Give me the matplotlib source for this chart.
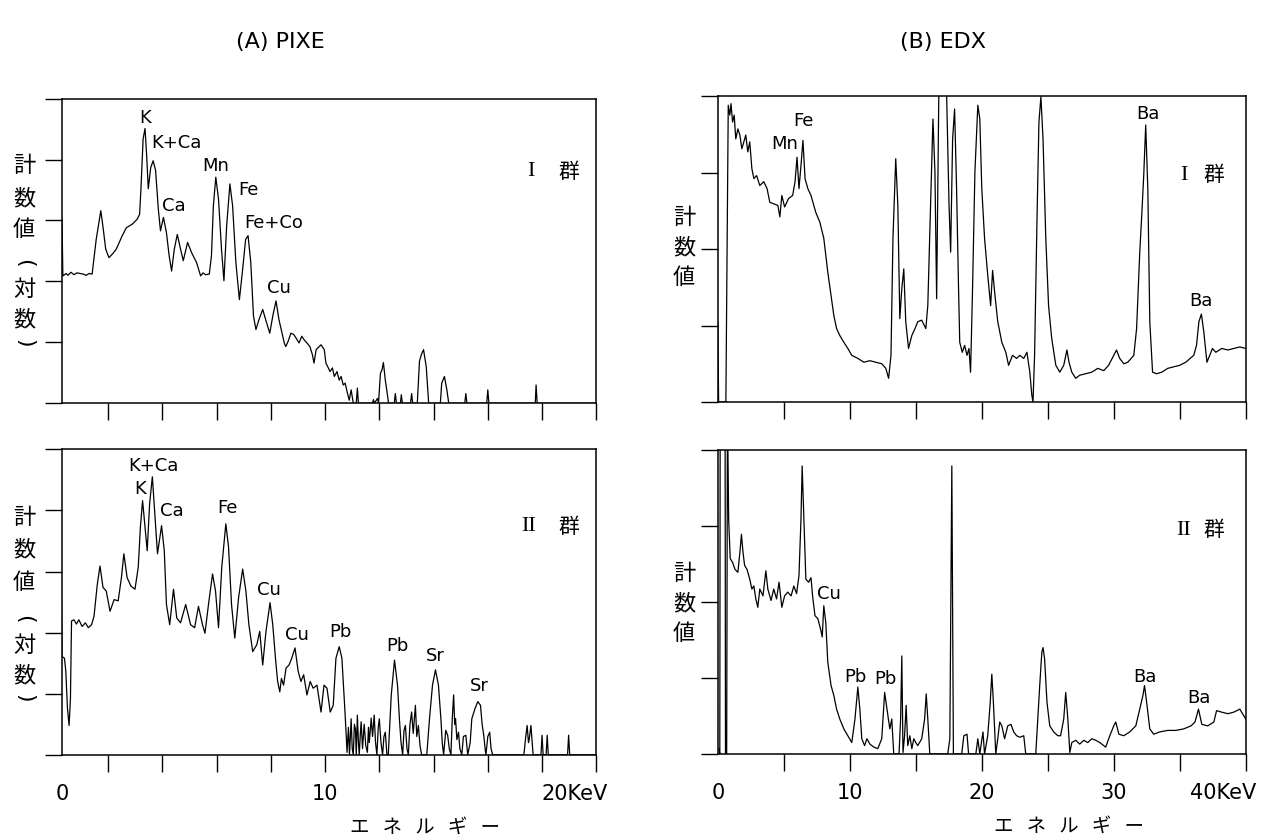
import matplotlib
matplotlib.use("Agg")
import matplotlib.pyplot as plt
import numpy as np

plt.rcParams['font.family'] = ['DejaVu Sans', 'Noto Sans CJK JP']

# ---- spectra (energy in keV, log counts in decades) ----
pixe1_kev = [0.30, 0.33, 0.45, 0.52, 0.63, 0.74, 0.85, 0.96, 1.08, 1.19, 1.30, 1.41, 1.56, 1.66, 1.73,
             1.82, 1.91, 2.03, 2.16, 2.30, 2.52, 2.67, 2.89, 3.07, 3.16, 3.21, 3.29, 3.36, 3.42, 3.48,
             3.57, 3.66, 3.75, 3.85, 3.93, 4.04, 4.15, 4.25, 4.34, 4.44, 4.55, 4.67, 4.77, 4.93, 5.08,
             5.26, 5.41, 5.50, 5.59, 5.73, 5.81, 5.88, 5.97, 6.07, 6.18, 6.27, 6.37, 6.49, 6.59, 6.71,
             6.84, 6.96, 7.07, 7.16, 7.26, 7.36, 7.45, 7.56, 7.70, 7.81, 7.96, 8.07, 8.19, 8.30, 8.44,
             8.50, 8.55, 8.64, 8.74, 8.84, 8.93, 9.04, 9.14, 9.23, 9.33, 9.44, 9.53, 9.59, 9.67, 9.78,
             9.85, 9.97, 10.03, 10.12, 10.18, 10.27, 10.34, 10.44, 10.52, 10.59, 10.67, 10.74, 10.81,
             10.89, 10.96, 11.04, 11.15, 11.19, 11.23, 11.75, 11.78, 11.82, 11.93, 11.97, 12.04, 12.10,
             12.15, 12.22, 12.28, 12.34, 12.55, 12.59, 12.63, 12.78, 12.81, 12.85, 13.15, 13.19, 13.23,
             13.40, 13.48, 13.55, 13.63, 13.73, 13.82, 14.25, 14.30, 14.40, 14.49, 14.56, 15.15, 15.19,
             15.23, 15.96, 16.00, 16.04, 17.75, 17.78, 17.82, 20.00]
pixe1_cnt = [3.02, 2.09, 2.13, 2.10, 2.15, 2.11, 2.14, 2.13, 2.12, 2.10, 2.13, 2.12, 2.69, 2.97, 3.16,
             2.86, 2.53, 2.39, 2.45, 2.53, 2.75, 2.88, 2.94, 3.02, 3.10, 3.52, 4.34, 4.51, 4.07, 3.52,
             3.87, 3.98, 3.82, 3.19, 2.83, 3.05, 2.80, 2.42, 2.17, 2.53, 2.77, 2.53, 2.34, 2.64, 2.47,
             2.31, 2.09, 2.14, 2.11, 2.12, 2.42, 3.24, 3.71, 3.35, 2.53, 2.01, 2.91, 3.60, 3.24, 2.31,
             1.70, 2.20, 2.69, 2.75, 2.31, 1.43, 1.21, 1.37, 1.54, 1.37, 1.15, 1.43, 1.68, 1.37, 1.10,
             0.98, 0.93, 1.02, 1.15, 1.13, 1.07, 0.99, 1.10, 1.04, 0.99, 0.93, 0.80, 0.66, 0.88, 0.93,
             0.96, 0.88, 0.66, 0.58, 0.52, 0.58, 0.44, 0.52, 0.38, 0.44, 0.30, 0.33, 0.19,
             0.05, 0.22, 0.00, 0.00, 0.25, 0.00, 0.00, 0.06, 0.00, 0.08, 0.00, 0.49, 0.55,
             0.67, 0.38, 0.20, 0.00, 0.00, 0.16, 0.00, 0.00, 0.14, 0.00, 0.00, 0.16, 0.00,
             0.00, 0.69, 0.80, 0.88, 0.60, 0.00, 0.00, 0.33, 0.44, 0.22, 0.00, 0.00, 0.16,
             0.00, 0.00, 0.22, 0.00, 0.00, 0.30, 0.00, 0.00]

pixe2_kev = [0.27, 0.30, 0.39, 0.44, 0.50, 0.56, 0.61, 0.65, 0.74, 0.83, 0.92, 1.04, 1.16, 1.27, 1.39,
             1.48, 1.60, 1.70, 1.81, 1.93, 2.07, 2.22, 2.37, 2.49, 2.58, 2.70, 2.84, 2.99, 3.11, 3.19,
             3.27, 3.36, 3.44, 3.53, 3.63, 3.73, 3.82, 3.97, 4.07, 4.15, 4.27, 4.41, 4.53, 4.67, 4.86,
             5.04, 5.19, 5.33, 5.48, 5.57, 5.70, 5.85, 5.96, 6.07, 6.19, 6.34, 6.44, 6.55, 6.67, 6.81,
             6.96, 7.08, 7.19, 7.33, 7.48, 7.59, 7.70, 7.82, 7.97, 8.07, 8.18, 8.25, 8.33, 8.39, 8.47,
             8.56, 8.67, 8.77, 8.89, 9.01, 9.11, 9.21, 9.33, 9.45, 9.56, 9.70, 9.85, 9.96, 10.07, 10.19,
             10.30, 10.40, 10.52, 10.62, 10.74, 10.81, 10.86, 10.90, 10.96, 11.00, 11.04, 11.08, 11.12,
             11.15, 11.19, 11.23, 11.26, 11.30, 11.33, 11.38, 11.44, 11.50, 11.56, 11.60, 11.63, 11.70,
             11.75, 11.81, 11.86, 11.91, 11.96, 12.00, 12.06, 12.12, 12.17, 12.22, 12.28, 12.33, 12.44,
             12.56, 12.67, 12.74, 12.80, 12.86, 12.91, 12.96, 13.02, 13.07, 13.13, 13.19, 13.25, 13.33,
             13.38, 13.44, 13.50, 13.56, 13.75, 13.85, 13.96, 14.07, 14.18, 14.27, 14.32, 14.37, 14.45,
             14.52, 14.58, 14.64, 14.69, 14.74, 14.78, 14.81, 14.86, 14.92, 14.97, 15.04, 15.10, 15.19,
             15.26, 15.35, 15.41, 15.53, 15.63, 15.73, 15.79, 15.85, 15.90, 15.93, 16.00, 16.07, 16.12,
             16.18, 17.33, 17.40, 17.45, 17.50, 17.53, 17.59, 17.67, 17.96, 18.00, 18.04, 18.15, 18.19,
             18.23, 18.94, 18.98, 19.02, 20.00]
pixe2_cnt = [2.79, 1.61, 1.58, 1.36, 0.76, 0.48, 0.92, 2.19, 2.21, 2.14, 2.21, 2.10, 2.16, 2.08, 2.13,
             2.27, 2.79, 3.09, 2.74, 2.68, 2.35, 2.54, 2.52, 2.90, 3.29, 2.90, 2.76, 2.71, 3.07, 3.73,
             4.16, 3.73, 3.34, 4.11, 4.55, 3.89, 3.29, 3.75, 3.34, 2.46, 2.13, 2.71, 2.24, 2.16, 2.46,
             2.13, 2.08, 2.43, 2.13, 1.99, 2.46, 2.96, 2.68, 2.08, 3.07, 3.78, 3.40, 2.46, 1.91, 2.57,
             3.04, 2.68, 2.13, 1.69, 1.80, 2.02, 1.47, 2.02, 2.49, 2.13, 1.53, 1.20, 1.03, 1.25, 1.14,
             1.42, 1.47, 1.58, 1.75, 1.36, 1.20, 1.31, 0.98, 1.20, 1.09, 1.14, 0.70, 1.14, 1.09, 0.70,
             0.81, 1.58, 1.77, 1.58, 0.65, 0.04, 0.45, 0.00, 0.59, 0.10, 0.00, 0.50, 0.42,
             0.00, 0.65, 0.20, 0.00, 0.35, 0.54, 0.10, 0.50, 0.15, 0.04, 0.45, 0.20, 0.60,
             0.30, 0.65, 0.20, 0.00, 0.45, 0.59, 0.20, 0.00, 0.30, 0.37, 0.00, 0.00, 0.98,
             1.55, 1.14, 0.59, 0.20, 0.00, 0.40, 0.48, 0.10, 0.00, 0.50, 0.70, 0.35, 0.81,
             0.30, 0.48, 0.15, 0.00, 0.00, 0.59, 1.14, 1.39, 1.14, 0.59, 0.20, 0.00, 0.40,
             0.32, 0.10, 0.00, 0.60, 0.98, 0.50, 0.59, 0.25, 0.37, 0.10, 0.00, 0.30, 0.32,
             0.00, 0.20, 0.59, 0.76, 0.87, 0.81, 0.50, 0.32, 0.10, 0.00, 0.30, 0.37, 0.10,
             0.00, 0.00, 0.30, 0.48, 0.20, 0.26, 0.48, 0.00, 0.00, 0.32, 0.00, 0.00, 0.32,
             0.00, 0.00, 0.32, 0.00, 0.00]

edx1_kev = [0.00, 0.06, 0.61, 0.70, 0.79, 0.91, 1.00, 1.12, 1.24, 1.36, 1.52, 1.67, 1.82, 1.97, 2.12,
            2.27, 2.42, 2.58, 2.73, 2.94, 3.18, 3.48, 3.73, 3.94, 4.24, 4.55, 4.70, 4.85, 5.06, 5.36,
            5.67, 5.85, 6.00, 6.15, 6.30, 6.45, 6.61, 6.82, 7.06, 7.27, 7.42, 7.73, 8.03, 8.33, 8.58,
            8.79, 9.00, 9.24, 9.55, 9.85, 10.15, 10.61, 11.06, 11.52, 11.97, 12.42, 12.73, 12.94, 13.12,
            13.27, 13.48, 13.64, 13.79, 13.94, 14.09, 14.24, 14.45, 14.70, 14.94, 15.15, 15.45, 15.76,
            15.91, 16.15, 16.30, 16.45, 16.58, 16.76, 16.88, 17.30, 17.52, 17.64, 17.79, 17.94, 18.09,
            18.24, 18.33, 18.52, 18.70, 18.88, 19.03, 19.15, 19.30, 19.48, 19.70, 19.85, 20.00, 20.21,
            20.45, 20.67, 20.82, 21.00, 21.21, 21.52, 21.82, 22.03, 22.33, 22.64, 22.88, 23.18, 23.42,
            23.64, 23.79, 23.88, 24.00, 24.18, 24.33, 24.48, 24.64, 24.85, 25.06, 25.30, 25.61, 25.91,
            26.21, 26.45, 26.61, 26.82, 27.12, 27.42, 27.88, 28.33, 28.79, 29.24, 29.61, 30.00, 30.21,
            30.45, 30.76, 31.06, 31.52, 31.73, 31.97, 32.12, 32.27, 32.42, 32.58, 32.73, 32.94, 33.24,
            33.64, 34.09, 34.55, 35.00, 35.45, 36.06, 36.27, 36.45, 36.64, 36.82, 37.06, 37.27, 37.48,
            37.73, 38.18, 38.64, 39.09, 39.55, 40.00]
edx1_cnt = [1.05, 0.00, 0.00, 1.92, 3.88, 3.75, 3.90, 3.66, 3.75, 3.44, 3.57, 3.49, 3.31, 3.40, 3.49,
            3.27, 3.40, 3.05, 2.92, 2.96, 2.83, 2.88, 2.79, 2.61, 2.59, 2.57, 2.42, 2.70, 2.55, 2.66,
            2.70, 2.88, 3.20, 2.79, 3.09, 3.42, 2.92, 2.79, 2.70, 2.57, 2.48, 2.35, 2.14, 1.70, 1.39,
            1.13, 0.96, 0.87, 0.78, 0.70, 0.61, 0.57, 0.52, 0.54, 0.52, 0.50, 0.44, 0.31, 0.61,
            2.14, 3.18, 2.57, 1.09, 1.48, 1.74, 1.05, 0.70, 0.87, 0.96, 1.05, 1.07, 0.96,
            1.26, 2.79, 3.70, 3.01, 1.35, 4.30, 4.30, 4.30, 2.57, 1.96, 3.44, 3.83, 2.79,
            1.48, 0.78, 0.65, 0.74, 0.61, 0.70, 0.39, 1.48, 3.01, 3.88, 3.70, 2.79, 2.14,
            1.66, 1.26, 1.72, 1.39, 1.05, 0.78, 0.65, 0.48, 0.61, 0.57, 0.61, 0.57, 0.65,
            0.39, 0.09, 0.00, 0.61, 2.35, 3.66, 3.99, 3.44, 2.14, 1.26, 0.83, 0.48, 0.39,
            0.48, 0.68, 0.52, 0.39, 0.31, 0.35, 0.37, 0.39, 0.44, 0.41, 0.48, 0.61, 0.68,
            0.57, 0.50, 0.52, 0.61, 0.96, 1.96, 2.44, 2.96, 3.62, 2.79, 1.05, 0.39, 0.37,
            0.39, 0.44, 0.46, 0.48, 0.52, 0.61, 0.74, 1.05, 1.15, 0.92, 0.52, 0.61, 0.70,
            0.65, 0.70, 0.68, 0.70, 0.72, 0.70]

edx2_kev = [0.09, 0.15, 0.18, 0.55, 0.58, 0.67, 0.73, 0.82, 0.94, 1.12, 1.30, 1.52, 1.67, 1.79, 1.91,
            2.03, 2.21, 2.42, 2.58, 2.73, 2.88, 3.03, 3.18, 3.42, 3.64, 3.79, 4.03, 4.24, 4.45, 4.64,
            4.85, 5.06, 5.30, 5.55, 5.76, 5.97, 6.15, 6.30, 6.39, 6.52, 6.67, 6.88, 7.06, 7.18, 7.36,
            7.58, 7.79, 7.91, 8.03, 8.18, 8.33, 8.58, 8.79, 9.00, 9.24, 9.55, 9.85, 10.15, 10.39, 10.61,
            10.76, 10.91, 11.12, 11.30, 11.52, 11.82, 12.12, 12.42, 12.64, 12.82, 13.03, 13.18, 13.33,
            13.73, 13.85, 13.94, 14.03, 14.15, 14.27, 14.39, 14.55, 14.70, 14.85, 15.00, 15.15, 15.45,
            15.67, 15.79, 15.91, 16.06, 17.42, 17.58, 17.73, 17.85, 18.48, 18.64, 18.88, 19.00, 19.55,
            19.70, 19.85, 20.09, 20.21, 20.45, 20.64, 20.76, 20.88, 21.06, 21.21, 21.36, 21.52, 21.73,
            21.97, 22.21, 22.42, 22.64, 22.88, 23.18, 23.33, 24.09, 24.24, 24.39, 24.55, 24.64, 24.76,
            24.94, 25.15, 25.45, 25.76, 25.97, 26.21, 26.36, 26.52, 26.67, 26.82, 27.12, 27.42, 27.73,
            28.03, 28.33, 28.64, 28.94, 29.39, 29.70, 30.00, 30.15, 30.39, 30.76, 31.21, 31.67, 31.97,
            32.21, 32.33, 32.52, 32.73, 33.03, 33.48, 34.09, 34.70, 35.30, 35.85, 36.15, 36.42, 36.67,
            37.12, 37.58, 37.79, 38.18, 38.64, 39.09, 39.55, 40.00]
edx2_cnt = [0.07, 0.00, 4.60, 4.60, 0.00, 0.00, 4.60, 3.09, 2.57, 2.52, 2.43, 2.39, 2.65, 2.89, 2.65,
            2.48, 2.43, 2.30, 2.17, 2.21, 2.04, 1.93, 2.17, 2.08, 2.41, 2.17, 2.02, 2.17, 2.04, 2.26,
            1.93, 2.08, 2.13, 2.08, 2.21, 2.11, 2.35, 3.09, 3.79, 3.09, 2.30, 2.26, 2.32, 2.08, 1.82,
            1.78, 1.64, 1.54, 1.95, 1.73, 1.21, 0.90, 0.77, 0.59, 0.46, 0.33, 0.24, 0.15, 0.46, 0.88,
            0.59, 0.20, 0.11, 0.20, 0.13, 0.09, 0.07, 0.20, 0.81, 0.59, 0.33, 0.46, 0.00,
            0.00, 0.46, 1.29, 0.02, 0.24, 0.64, 0.11, 0.24, 0.07, 0.20, 0.15, 0.11, 0.20,
            0.46, 0.79, 0.46, 0.00, 0.00, 0.20, 3.79, 0.00, 0.00, 0.24, 0.26, 0.00, 0.00,
            0.20, 0.00, 0.29, 0.00, 0.24, 0.68, 1.05, 0.68, 0.00, 0.20, 0.42, 0.37, 0.20,
            0.37, 0.39, 0.29, 0.24, 0.22, 0.24, 0.00, 0.00, 0.46, 0.90, 1.34, 1.40, 1.25,
            0.68, 0.37, 0.29, 0.24, 0.24, 0.46, 0.81, 0.46, 0.02, 0.15, 0.18, 0.13, 0.18,
            0.15, 0.20, 0.18, 0.15, 0.09, 0.24, 0.37, 0.42, 0.26, 0.24, 0.29, 0.37, 0.59,
            0.77, 0.90, 0.64, 0.33, 0.26, 0.29, 0.31, 0.31, 0.33, 0.37, 0.42, 0.59, 0.39,
            0.37, 0.42, 0.57, 0.55, 0.53, 0.55, 0.59, 0.46]

# peak labels: (text, keV, height)
pixe1_labels = [("K", 3.36, 4.70), ("K+Ca", 4.52, 4.29), ("Mn", 5.96, 3.91), ("Fe", 7.19, 3.52),
                ("Ca", 4.44, 3.25), ("Fe+Co", 8.12, 2.97), ("Cu", 8.30, 1.90)]
pixe2_labels = [("K+Ca", 3.67, 4.74), ("K", 3.19, 4.36), ("Ca", 4.33, 4.00), ("Fe", 6.40, 4.05),
                ("Cu", 7.94, 2.71), ("Cu", 8.96, 1.97), ("Pb", 10.56, 2.02), ("Pb", 12.67, 1.79),
                ("Sr", 14.07, 1.64), ("Sr", 15.70, 1.14)]
edx1_labels = [("Fe", 6.52, 3.68), ("Mn", 5.09, 3.38), ("Ba", 32.58, 3.78), ("Ba", 36.60, 1.33)]
edx2_labels = [("Cu", 8.42, 2.12), ("Pb", 10.45, 1.02), ("Pb", 12.73, 1.00), ("Ba", 32.33, 1.03),
               ("Ba", 36.45, 0.75)]

pixe_ticklabels = [("0", 0.3), ("10", 10.0), ("20KeV", 19.2)]
edx_ticklabels = [("0", 0.0), ("10", 10.0), ("20", 20.0), ("30", 30.0), ("40KeV", 38.3)]

# vertical axis titles, one character per line (parentheses get turned on their side)
pixe_ylabel = ["計", "数", "値", "(", "対", "数", ")"]
edx_ylabel = ["計", "数", "値"]

CJK = 'Noto Sans CJK JP'
W, H = 1266, 837
fig = plt.figure(figsize=(12.66, 8.37), dpi=100)

def make_ax(rect, xlim, xticks, ymax, yticks):
    ax = fig.add_axes(rect)
    ax.set_xlim(*xlim)
    ax.set_ylim(0, ymax)
    ax.set_xticks(xticks)
    ax.set_yticks(yticks)
    ax.set_xticklabels([])
    ax.set_yticklabels([])
    ax.tick_params(direction='out', length=12, width=1.0, color='black')
    for s in ax.spines.values():
        s.set_linewidth(1.1)
    return ax

panels = [
    # rect, xlim, xticks, ymax, yticks, kev, cnt, labels, group, group pos (numeral x, kanji x, y)
    ([0.049, 0.517, 0.422, 0.364], (0.3, 20), np.arange(2, 21, 2), 5, range(6),
     pixe1_kev, pixe1_cnt, pixe1_labels, "I", (17.6, 19.0, 3.82)),
    ([0.049, 0.097, 0.422, 0.365], (0.3, 20), np.arange(2, 21, 2), 5, range(6),
     pixe2_kev, pixe2_cnt, pixe2_labels, "II", (17.5, 19.0, 3.75)),
    ([0.567, 0.5185, 0.417, 0.3656], (0, 40), np.arange(5, 41, 5), 4, range(5),
     edx1_kev, edx1_cnt, edx1_labels, "I", (35.3, 37.6, 2.98)),
    ([0.567, 0.098, 0.417, 0.3632], (0, 40), np.arange(5, 41, 5), 4, range(5),
     edx2_kev, edx2_cnt, edx2_labels, "II", (35.3, 37.6, 2.96)),
]

axes = []
for rect, xlim, xt, ymax, yt, kev, cnt, labels, grp, gpos in panels:
    ax = make_ax(rect, xlim, xt, ymax, yt)
    ax.plot(kev, cnt, color='black', lw=0.9)
    for txt, x, y in labels:
        ax.text(x, y, txt, ha='center', va='center', fontsize=13)
    ax.text(gpos[0], gpos[2], grp, ha='center', va='center', fontsize=16, family=['Liberation Serif'])
    ax.text(gpos[1], gpos[2], "群", ha='center', va='center', fontsize=15, family=[CJK])
    axes.append(ax)

# bottom tick labels and energy axis titles
for ax, labs in [(axes[1], pixe_ticklabels), (axes[3], edx_ticklabels)]:
    for txt, x in labs:
        ax.text(x, -0.125, txt, transform=ax.get_xaxis_transform(), ha='center', va='center',
                fontsize=15)
    ax.text(0.68 if ax is axes[1] else 0.665, -0.235, "エ   ネ   ル   ギ   ー", transform=ax.transAxes,
            ha='center', va='center', fontsize=14, family=[CJK])

def vlabel(x, ys, chars):
    for ch, y in zip(chars, ys):
        rot = -90 if ch in "()" else 0
        fam = ['DejaVu Sans'] if ch in "()" else [CJK]
        fig.text(x / W, 1 - y / H, ch, ha='center', va='center', fontsize=16, rotation=rot,
                 family=fam)

vlabel(24, [166, 199, 230, 263, 289, 320, 343], pixe_ylabel)
vlabel(24, [518, 550, 583, 619, 645, 676, 698], pixe_ylabel)
vlabel(684, [218, 248, 278], edx_ylabel)
vlabel(684, [573, 604, 634], edx_ylabel)

fig.text(280 / W, 1 - 42 / H, "(A) PIXE", ha='center', va='center', fontsize=16)
fig.text(943 / W, 1 - 42 / H, "(B) EDX", ha='center', va='center', fontsize=16)

fig.savefig("out.png", dpi=100)
